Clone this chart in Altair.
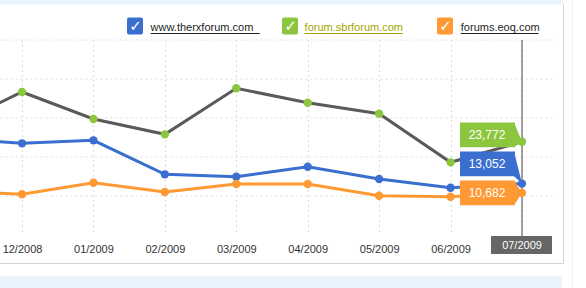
import json
import altair as alt
import pandas as pd

# ---------------- data ----------------
months = ["11/2008", "12/2008", "01/2009", "02/2009", "03/2009",
          "04/2009", "05/2009", "06/2009", "07/2009"]
sites = ["www.therxforum.com", "forum.sbrforum.com", "forums.eoq.com"]
therx = [24700, 23380, 24150, 15430, 14820, 17380, 14230, 12000, 13052]
sbr = [27640, 36540, 29610, 25690, 37490, 33790, 30970, 18510, 23772]
eoq = [11130, 10310, 13280, 10900, 12950, 12950, 9950, 9690, 10682]
y_ticks = [10000, 20000, 30000, 40000, 50000]

# ---------------- styles ----------------
line_colors = ["#3a6fd0", "#5a5a5a", "#ff9933"]
dot_colors = ["#3a6fd0", "#8cc63f", "#ff9933"]
legend_text_colors = ["#1e1e1e", "#a3a300", "#1e1e1e"]
FONT = "Liberation Sans"

W, H = 552, 195
YMAX = 50000
X_DOMAIN = [-0.308, 7.42]
upp = YMAX / H                      # value units per pixel (y)
uxp = (X_DOMAIN[1] - X_DOMAIN[0]) / W  # index units per pixel (x)

rows = []
for s, lc, dc, vals in zip(sites, line_colors, dot_colors, [therx, sbr, eoq]):
    for i, (m, v) in enumerate(zip(months, vals)):
        rows.append(dict(site=s, month=m, idx=i - 1, value=v, lc=lc, dc=dc))
df = pd.DataFrame(rows)

last_idx = len(months) - 2
last = df[df.idx == last_idx].sort_values("value").reset_index(drop=True)

# callout placement: stack boxes upward to avoid overlap
centers = []
prev = None
for v in last.value:
    c = v if prev is None else max(v, prev + 29 * upp)
    centers.append(c)
    prev = c
last["center"] = centers
last["top"] = last.center + 12.3 * upp
last["bottom"] = last.center - 12.3 * upp
last["label"] = [f"{v:,}" for v in last.value]

wedge_rows = []
for _, r in last.iterrows():
    wedge_rows.append(dict(site=r.site, dc=r.dc, idx=r.idx - 8 * uxp, y=r.top, y2=r.bottom))
    wedge_rows.append(dict(site=r.site, dc=r.dc, idx=r.idx, y=r.value, y2=r.value))
wedges = pd.DataFrame(wedge_rows)

xscale = alt.Scale(domain=X_DOMAIN, nice=False, zero=False)
yscale = alt.Scale(domain=[0, YMAX], nice=False)
label_list = json.dumps(months[1:-1]).replace('"', "'")
xaxis = alt.Axis(values=list(range(last_idx + 1)), title=None, domain=False, ticks=False,
                 grid=True, gridColor="#dcdcdc", gridDash=[2, 3],
                 labelExpr=f"datum.value < {last_idx} ? {label_list}[datum.value] : ''",
                 labelFont=FONT, labelFontSize=11, labelColor="#333333",
                 labelPadding=9)
yaxis = alt.Axis(values=y_ticks, title=None, domain=False, ticks=False, labels=False,
                 grid=True, gridColor="#dcdcdc", gridDash=[2, 3])


def X(field="idx"):
    return alt.X(field, type="quantitative", scale=xscale, axis=xaxis)


def Y(field="value"):
    return alt.Y(field, type="quantitative", scale=yscale, axis=yaxis)


base = alt.Chart(df)

vline = alt.Chart(last.head(1)).mark_rule(color="#444444", strokeWidth=1).encode(
    x=X(), y=alt.value(0.5), y2=alt.value(196.5))

lines = base.mark_line(clip=True, strokeWidth=3).encode(
    x=X(), y=Y(), detail="site:N", color=alt.Color("lc:N", scale=None))

wedge = alt.Chart(wedges).mark_area(opacity=1).encode(
    x=X(), y=Y("y"), y2="y2", detail="site:N", color=alt.Color("dc:N", scale=None))

boxes = alt.Chart(last).mark_rect(xOffset=-62, x2Offset=-7).encode(
    x=X(), x2="idx", y=Y("top"), y2="bottom", color=alt.Color("dc:N", scale=None))

box_text = alt.Chart(last).mark_text(xOffset=-35, font=FONT, fontSize=12, color="white",
                                     baseline="middle").encode(
    x=X(), y=Y("center"), text="label:N")

points = base.mark_circle(size=70, opacity=1, clip=True).encode(
    x=X(), y=Y(), color=alt.Color("dc:N", scale=None))

hl = last.head(1).assign(month=months[-1])
hl_box = alt.Chart(hl).mark_rect(color="#666666", xOffset=-31, x2Offset=30).encode(
    x=X(), x2="idx", y=alt.value(196.5), y2=alt.value(214.5))
hl_text = alt.Chart(hl).mark_text(color="white", font=FONT, fontSize=11, baseline="middle").encode(
    x=X(), y=alt.value(206), text="month:N")

one = pd.DataFrame({"a": [0]})
deco = alt.Chart(one)
top_strip = deco.mark_rect(color="#e9f4fc").encode(
    x=alt.value(0), x2=alt.value(563), y=alt.value(-39.5), y2=alt.value(-35))
bottom_strip = deco.mark_rect(color="#e9f4fc").encode(
    x=alt.value(0), x2=alt.value(562), y=alt.value(236.5), y2=alt.value(248.5))
right_border = deco.mark_rule(color="#c9d4dc").encode(
    x=alt.value(563.5), y=alt.value(-35), y2=alt.value(224))
bottom_border = deco.mark_rule(color="#c9d4dc").encode(
    x=alt.value(0), x2=alt.value(563.5), y=alt.value(224))
far_line = deco.mark_rule(color="#eef1f4").encode(
    x=alt.value(572.5), y=alt.value(-39.5), y2=alt.value(248.5))

# legend (drawn by hand, above the plot)
legend_box_x = [127, 282, 437]
legend_text_x = [150.6, 304.6, 460.8]
legend_text_end = [259.7, 402.8, 538.5]
legend_layers = []
for i, s in enumerate(sites):
    legend_layers.append(deco.mark_rect(color=dot_colors[i], cornerRadius=2).encode(
        x=alt.value(legend_box_x[i]), x2=alt.value(legend_box_x[i] + 16),
        y=alt.value(-22), y2=alt.value(-5)))
    legend_layers.append(deco.mark_text(text="\u2713", color="white", font="DejaVu Sans",
                                        fontSize=15, fontWeight="bold", baseline="middle").encode(
        x=alt.value(legend_box_x[i] + 8.5), y=alt.value(-13.5)))
    legend_layers.append(deco.mark_text(text=s, color=legend_text_colors[i], font=FONT,
                                        fontSize=11, align="left", baseline="alphabetic").encode(
        x=alt.value(legend_text_x[i]), y=alt.value(-8.5)))
    legend_layers.append(deco.mark_rule(color=legend_text_colors[i], strokeWidth=1).encode(
        x=alt.value(legend_text_x[i]), x2=alt.value(legend_text_end[i]), y=alt.value(-6)))

chart = alt.layer(
    top_strip, bottom_strip, right_border, bottom_border, far_line,
    vline, lines, wedge, boxes, box_text, points, hl_box, hl_text,
    *legend_layers
).properties(
    width=W, height=H,
    autosize=alt.AutoSizeParams(type="none"),
    padding={"left": 0, "top": 39.5, "right": 34, "bottom": 53.5},
    background="white",
).configure_view(strokeWidth=0)

chart.save("out.html", embed_options={"renderer": "svg", "actions": False})
